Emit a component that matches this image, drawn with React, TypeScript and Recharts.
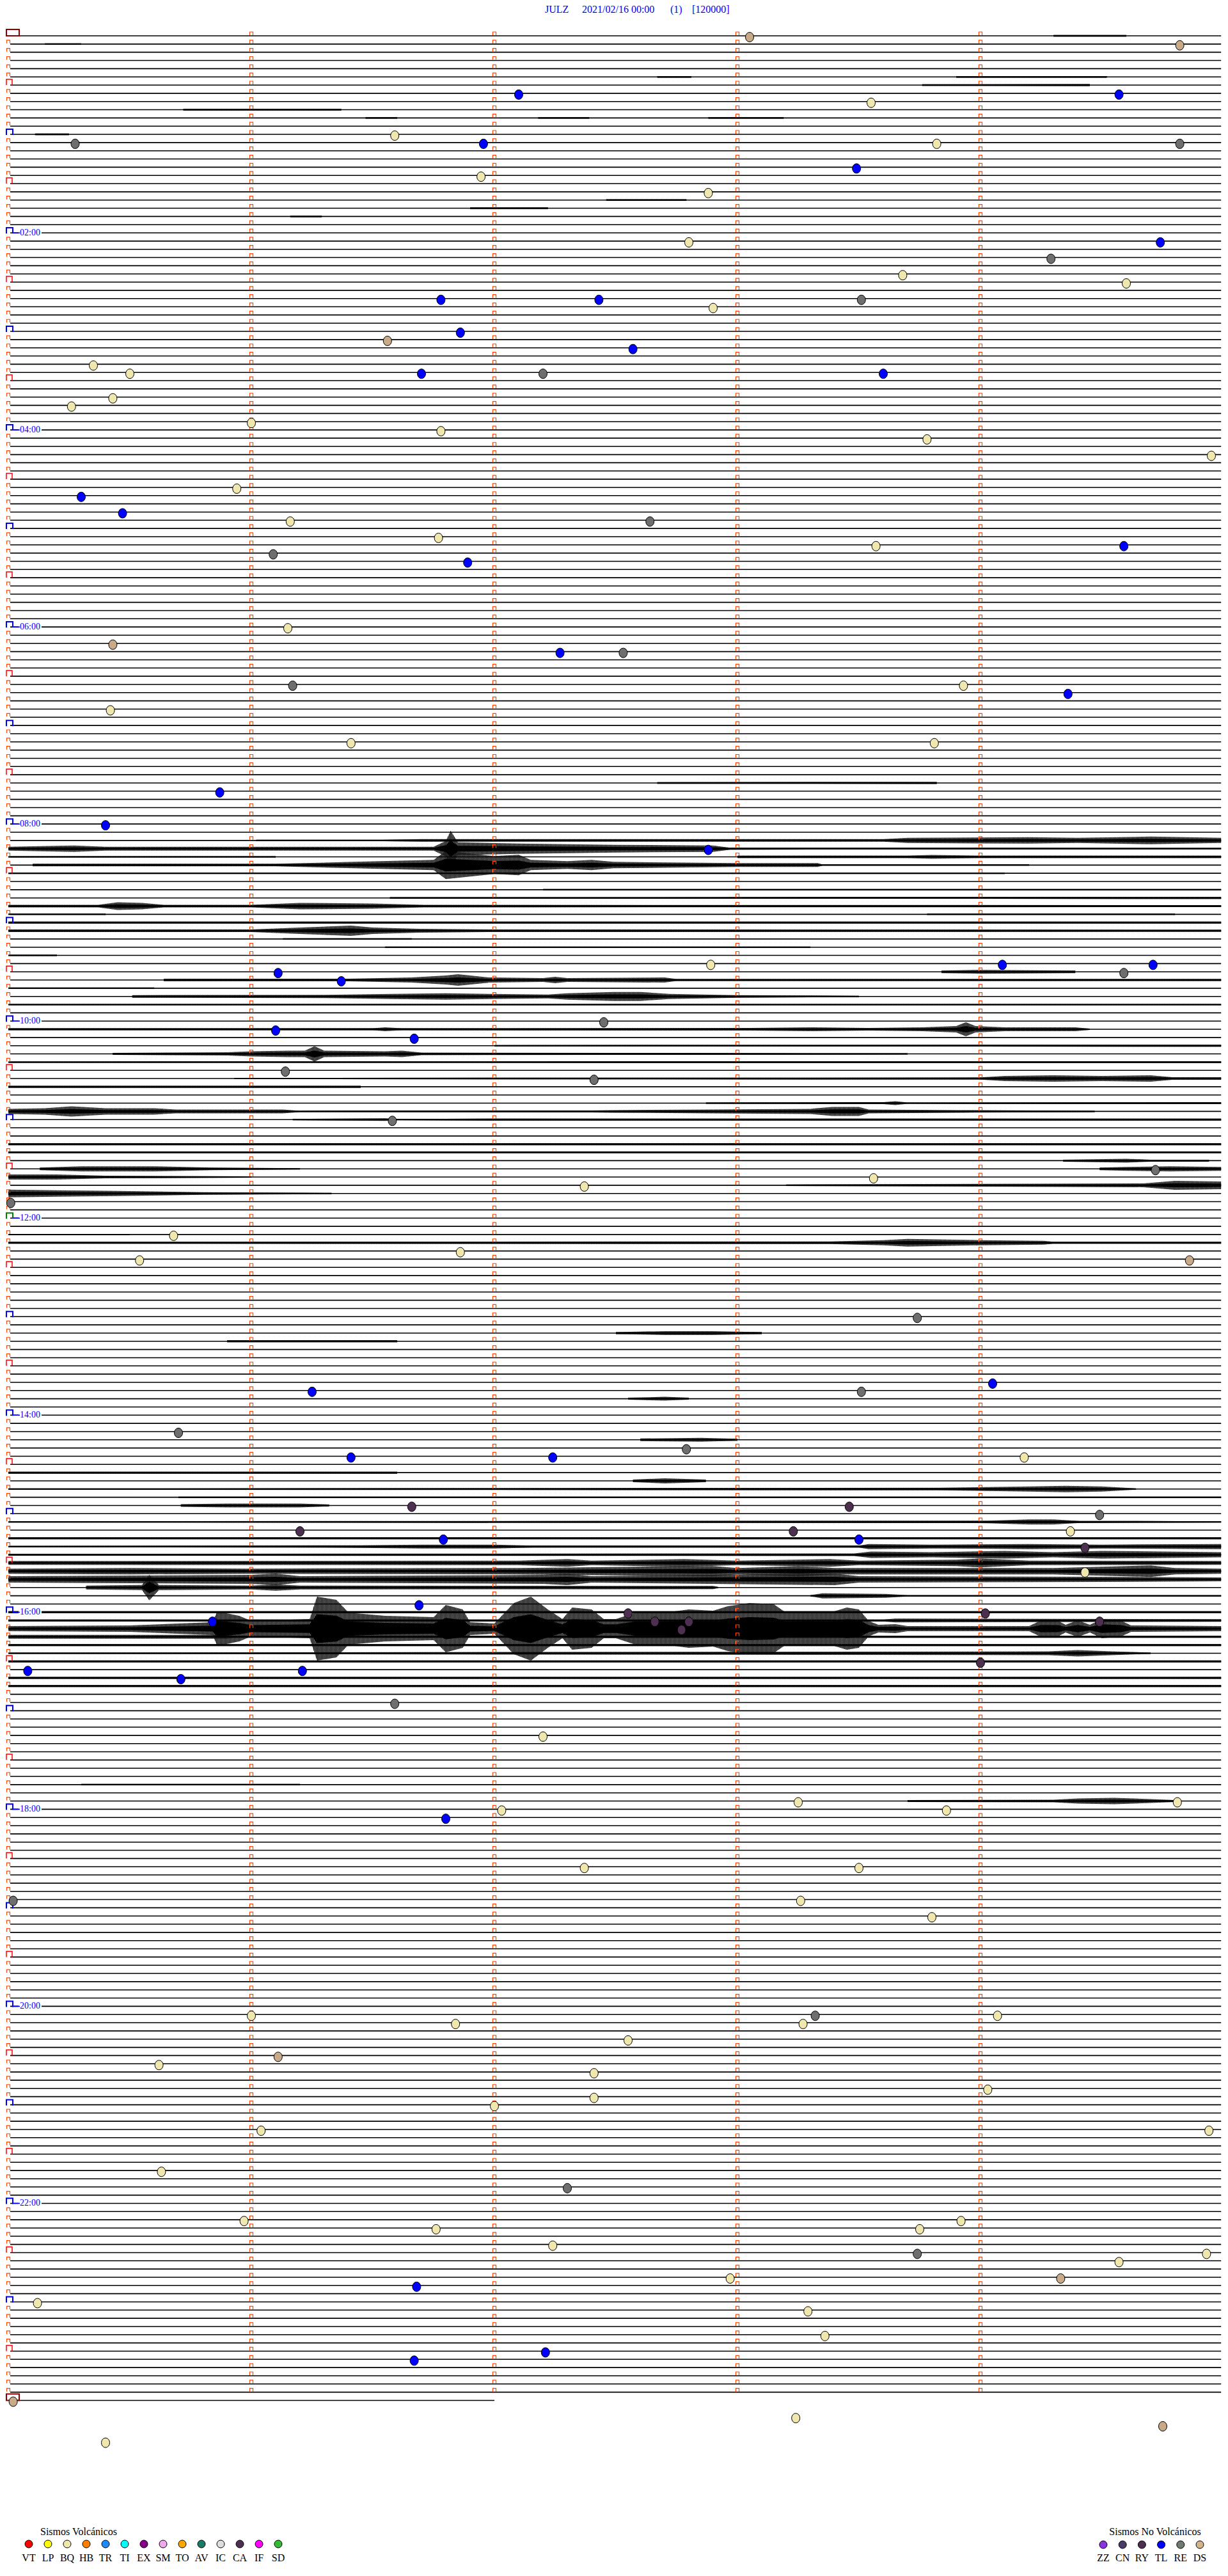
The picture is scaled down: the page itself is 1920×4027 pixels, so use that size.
import React from "react";
import { ComposedChart, Line, Area, Scatter, XAxis, YAxis } from "recharts";

// helicorder: 288 rows of 5 minutes, x in minutes inside a row, y = row index
const W = 1920;
const H = 4027;
const ROW_PX = 12.835;
const TOP_PX = 56;
const LEFT_PX = 13;
const MIN_PX = 380;
const ROWS = 288;
const LAST_ROW_MINUTES = 2;

const HOUR_LABELS = ["02:00", "04:00", "06:00", "08:00", "10:00", "12:00", "14:00", "16:00", "18:00", "20:00", "22:00"];
const HOUR_LABEL_ROWS = [24, 48, 72, 96, 120, 144, 168, 192, 216, 240, 264];

// events: [row, minute]
const BQ_EVENTS = [
  [8, 3.55], [12, 1.59], [13, 3.82], [17, 1.945], [19, 2.88], [25, 2.8], [29, 3.68], [30, 4.6],
  [33, 2.9], [40, 0.35], [41, 0.5], [44, 0.43], [45, 0.26], [47, 1.0], [48, 1.78], [49, 3.78],
  [51, 4.95], [55, 0.94], [59, 1.16], [61, 1.77], [62, 3.57], [72, 1.15], [79, 3.93], [82, 0.42],
  [86, 1.41], [86, 3.81], [113, 2.89], [139, 3.56], [140, 2.37], [146, 0.68], [148, 1.86], [149, 0.54],
  [173, 4.18], [182, 4.37], [187, 4.43], [207, 2.2], [215, 3.25], [215, 4.81], [216, 2.03], [216, 3.86],
  [223, 2.37], [223, 3.5], [227, 3.26], [229, 3.8], [241, 1.0], [241, 4.07], [242, 3.27], [242, 1.84],
  [244, 2.55], [247, 0.62], [248, 2.41], [250, 4.03], [251, 2.41], [252, 2.0], [255, 1.04], [255, 4.94],
  [260, 0.63], [266, 0.97], [266, 3.92], [267, 1.76], [267, 3.75], [269, 2.24], [270, 4.93], [271, 4.57],
  [273, 2.97], [276, 0.12], [277, 3.29], [280, 3.36], [290, 3.24], [293, 0.4],
];
const TL_EVENTS = [
  [7, 2.1], [7, 4.57], [13, 1.955], [16, 3.49], [25, 4.74], [32, 1.78], [32, 2.43], [36, 1.86],
  [38, 2.57], [41, 1.7], [41, 3.6], [56, 0.3], [58, 0.47], [62, 4.59], [64, 1.89], [75, 2.27],
  [80, 4.36], [92, 0.87], [96, 0.4], [99, 2.88], [113, 4.09], [113, 4.71], [114, 1.11], [115, 1.37],
  [121, 1.1], [122, 1.67], [164, 4.05], [165, 1.25], [173, 1.41], [173, 2.24], [183, 1.79], [183, 3.5],
  [191, 1.69], [193, 0.84], [199, 0.08], [199, 1.21], [200, 0.71], [217, 1.8], [274, 1.68], [282, 2.21],
  [283, 1.67],
];
const RE_EVENTS = [
  [13, 0.275], [13, 4.82], [27, 4.29], [32, 3.51], [41, 2.2], [59, 2.64], [63, 1.09], [75, 2.53],
  [79, 1.17], [114, 4.59], [120, 2.45], [126, 1.14], [127, 2.41], [132, 1.58], [138, 4.72], [142, 0.01],
  [156, 3.74], [165, 3.51], [170, 0.7], [172, 2.79], [180, 4.49], [203, 1.59], [227, 0.02], [241, 3.32],
  [262, 2.3], [270, 3.74],
];
const DS_EVENTS = [
  [0, 3.05], [1, 4.82], [37, 1.56], [74, 0.43], [149, 4.86], [246, 1.11], [273, 4.33], [288, 0.02], [291, 4.75],
];
const CA_EVENTS = [
  [179, 1.66], [179, 3.46], [182, 1.2], [182, 3.23], [184, 4.43], [192, 2.55], [192, 4.02], [193, 2.66],
  [193, 2.8], [193, 4.49], [194, 2.77], [198, 4.0],
];

// trace envelopes: [row, [[minute, half amplitude px], ...]]
const TRACES: [number, number[][]][] = [
  [0, [[4.3, 1.2], [4.6, 1.2]]],
  [1, [[0.15, 1.2], [0.3, 1.2]]],
  [5, [[2.67, 1.2], [2.81, 1.2]]],
  [5, [[3.9, 1.2], [4.52, 1.2]]],
  [6, [[3.76, 1.2], [4.45, 1.5]]],
  [9, [[0.72, 1.2], [1.37, 1.2]]],
  [10, [[1.47, 1.2], [1.6, 1.2]]],
  [10, [[2.18, 1.2], [2.39, 1.2]]],
  [10, [[2.88, 1.2], [3.19, 1.2]]],
  [12, [[0.11, 1.2], [0.25, 1.2]]],
  [20, [[2.46, 1.2], [2.79, 1.2]]],
  [21, [[1.9, 1.2], [2.22, 1.2]]],
  [22, [[1.16, 1.2], [1.29, 1.2]]],
  [91, [[2.67, 1.2], [3.82, 1.5]]],
  [98, [[1.02, 1.2], [1.54, 1.2], [1.7, 2], [3.6, 2], [3.7, 4], [4.2, 5], [4.4, 4], [4.7, 6], [4.99, 4]]],
  [99, [[0, 3], [0.27, 5], [0.4, 3], [1.75, 3], [1.8, 12], [1.82, 28], [1.85, 10], [2.1, 8], [2.5, 6], [2.9, 5], [2.97, 1.5], [4.99, 1.2]]],
  [100, [[0, 1], [1.1, 1]]],
  [100, [[3.0, 2], [3.7, 2], [3.8, 3], [4.0, 2], [4.99, 2]]],
  [101, [[0.1, 2], [1.1, 2], [1.42, 5], [1.75, 8], [1.8, 22], [1.9, 18], [2.0, 14], [2.1, 16], [2.15, 8], [2.3, 6], [2.4, 8], [2.49, 5], [3.0, 3], [3.33, 3], [3.35, 1], [4.2, 1]]],
  [102, [[0, 1], [4.1, 1]]],
  [104, [[2.2, 1.2], [4.99, 1.2]]],
  [105, [[1.57, 1.2], [4.99, 1.5]]],
  [106, [[0, 2], [0.37, 2], [0.45, 6], [0.55, 5], [0.64, 2], [1.0, 2], [1.2, 5], [1.5, 4], [1.71, 2], [4.99, 1.5]]],
  [107, [[0, 1], [0.4, 1]]],
  [107, [[3.78, 1], [4.8, 1]]],
  [108, [[0, 1.5], [4.99, 1.5]]],
  [109, [[0, 2], [1.0, 2], [1.2, 5], [1.41, 8], [1.5, 5], [1.69, 3], [2.0, 2], [4.99, 1.5]]],
  [110, [[1.13, 1], [1.66, 1]]],
  [111, [[1.55, 1], [3.3, 1]]],
  [112, [[0, 1], [0.2, 1]]],
  [114, [[3.84, 2], [4.0, 3], [4.39, 2]]],
  [115, [[0.64, 2], [1.4, 2], [1.66, 4], [1.8, 7], [1.85, 9], [1.98, 4], [2.2, 3], [2.25, 5], [2.3, 3], [2.7, 4], [2.75, 1.5], [4.99, 1.5]]],
  [116, [[0, 1], [0.6, 1]]],
  [117, [[0.51, 2], [1.3, 2.5], [1.58, 4], [1.8, 5], [1.98, 4], [2.22, 3], [2.3, 5], [2.49, 7], [2.6, 7], [2.72, 4], [3.0, 2], [3.5, 1]]],
  [118, [[0, 1], [4.99, 1]]],
  [121, [[0, 1.5], [1.5, 1.5], [1.55, 3], [1.62, 1.5], [3.05, 2], [3.3, 3], [3.54, 2], [3.76, 3], [3.9, 5], [3.94, 11], [3.98, 5], [4.1, 3], [4.39, 3], [4.45, 1]]],
  [123, [[2.0, 1], [4.99, 1.5]]],
  [124, [[0.43, 1.5], [0.9, 2.5], [1.0, 4], [1.15, 5], [1.22, 5], [1.26, 12], [1.3, 5], [1.55, 4], [1.62, 5], [1.7, 2], [2.5, 1.5], [3.7, 1]]],
  [125, [[0, 1], [4.99, 1.5]]],
  [127, [[0.93, 1], [3.99, 1.5], [4.1, 4], [4.3, 5], [4.5, 4], [4.7, 5], [4.79, 2], [4.99, 2]]],
  [128, [[0, 1.5], [1.45, 1.5]]],
  [130, [[2.87, 1], [3.6, 1.5], [3.65, 3], [3.7, 1], [4.99, 1.5]]],
  [131, [[0, 4], [0.15, 5], [0.26, 8], [0.4, 5], [0.6, 5], [0.69, 3], [1.13, 3], [1.2, 1], [2.4, 1.5], [2.49, 2], [2.89, 3], [3.3, 4], [3.39, 7], [3.5, 7], [3.54, 3], [3.91, 2], [4.47, 1]]],
  [132, [[1.17, 1], [1.55, 2], [1.6, 1], [2.0, 1.5], [4.99, 1.5]]],
  [135, [[0, 1.5], [4.99, 1.5]]],
  [136, [[0, 1.5], [4.99, 1.5]]],
  [137, [[4.34, 1.5], [4.6, 3], [4.7, 1.5], [4.94, 1.5]]],
  [138, [[0.13, 2], [0.3, 4], [0.6, 4], [0.84, 2], [1.2, 1]]],
  [138, [[4.49, 2], [4.6, 3], [4.78, 4], [4.99, 3]]],
  [139, [[0, 4], [0.2, 4], [0.4, 2], [1.0, 1]]],
  [140, [[3.2, 1.2], [4.67, 3], [4.8, 7], [4.99, 6]]],
  [141, [[0, 6], [0.2, 5], [0.45, 4], [0.8, 2], [1.33, 1]]],
  [146, [[0, 1], [0.5, 1]]],
  [147, [[0, 1.5], [3.38, 2], [3.6, 4], [3.7, 6], [4.0, 4], [4.26, 3], [4.3, 1.5], [4.99, 1.5]]],
  [158, [[2.5, 1.5], [2.7, 3], [2.9, 3], [3.1, 1.5]]],
  [159, [[0.9, 1.5], [1.6, 1.5]]],
  [166, [[2.55, 1.5], [2.7, 3], [2.8, 1.5]]],
  [171, [[2.6, 2], [2.85, 3], [3.0, 1.5]]],
  [175, [[0, 1.5], [1.6, 1.5]]],
  [176, [[2.57, 2], [2.7, 4], [2.87, 2]]],
  [177, [[0, 1], [3.83, 2], [4.2, 4], [4.35, 5], [4.5, 4], [4.64, 1]]],
  [178, [[0.7, 1], [4.99, 1]]],
  [179, [[0.71, 2], [0.9, 3], [1.2, 3], [1.32, 1.5]]],
  [181, [[0, 1], [4.03, 2], [4.2, 4], [4.3, 4], [4.41, 1.5], [4.99, 1]]],
  [183, [[0, 1.5], [4.99, 1.5]]],
  [184, [[0, 1], [1.45, 2], [1.7, 3], [2.0, 3], [2.16, 1.5], [3.5, 1.5], [3.54, 4], [3.8, 3], [4.2, 4], [4.5, 3], [4.99, 4]]],
  [185, [[0, 1.5], [3.48, 2], [3.55, 5], [3.8, 4], [4.1, 6], [4.3, 4], [4.5, 6], [4.99, 4]]],
  [186, [[0, 3], [2.1, 3.5], [2.3, 6], [2.4, 3.5], [2.78, 6], [3.0, 3.5], [3.38, 6], [3.5, 3.5], [3.9, 5], [4.0, 7], [4.2, 3.5], [4.99, 3]]],
  [187, [[0, 4], [0.5, 5], [1.0, 4], [2.1, 5], [2.9, 8], [3.0, 5], [3.25, 8], [3.4, 5], [4.3, 5], [4.7, 9], [4.8, 5], [4.99, 4]]],
  [188, [[0, 5], [1.0, 7], [1.1, 9], [1.2, 5], [2.2, 7], [2.3, 9], [2.4, 5], [3.4, 9], [3.5, 5], [4.5, 4], [4.99, 3]]],
  [189, [[0.32, 3], [0.55, 4], [0.58, 20], [0.62, 4], [1.0, 3], [1.1, 5], [1.2, 3], [2.9, 2.5], [2.92, 1]]],
  [190, [[3.3, 1], [3.35, 4], [3.61, 3], [3.7, 1], [4.99, 1]]],
  [192, [[0, 1.5], [4.99, 1.5]]],
  [193, [[0, 1.5], [3.6, 1.5], [3.65, 3], [4.99, 2]]],
  [194, [
    [0, 4], [0.5, 5], [0.7, 8], [0.84, 10], [0.86, 27], [0.95, 20], [1.0, 12], [1.24, 15], [1.27, 50], [1.35, 45],
    [1.4, 25], [1.55, 20], [1.75, 18], [1.8, 37], [1.87, 30], [1.9, 10], [2.0, 8], [2.08, 40], [2.15, 50], [2.22, 30],
    [2.28, 15], [2.32, 33], [2.4, 30], [2.45, 15], [2.5, 15], [2.58, 25], [2.7, 25], [2.8, 30], [2.9, 28], [2.96, 35],
    [3.05, 40], [3.15, 38], [3.2, 25], [3.3, 27], [3.38, 25], [3.45, 33], [3.5, 30], [3.54, 12], [3.58, 6], [3.65, 7],
    [3.7, 4], [4.2, 4], [4.25, 13], [4.32, 12], [4.35, 6], [4.4, 13], [4.45, 6], [4.5, 15], [4.58, 12], [4.62, 5], [4.99, 4],
  ]],
  [195, [[0, 3], [0.9, 3], [0.93, 1.5], [4.99, 1.5]]],
  [196, [[0, 1.5], [4.99, 1.5]]],
  [197, [[0, 1], [4.28, 3], [4.4, 5], [4.54, 3], [4.7, 1]]],
  [198, [[0, 1.5], [4.99, 1.5]]],
  [200, [[0, 1.5], [4.99, 1.5]]],
  [201, [[0, 1.5], [4.99, 1.5]]],
  [213, [[0.3, 1], [1.2, 1]]],
  [215, [[3.7, 1.5], [4.3, 2], [4.4, 4], [4.55, 5], [4.7, 3], [4.8, 1.5]]],
];

const VOLC_LEGEND = ["VT", "LP", "BQ", "HB", "TR", "TI", "EX", "SM", "TO", "AV", "IC", "CA", "IF", "SD"];
const VOLC_COLORS = ["#ff0000", "#ffff00", "#efe7ad", "#ff8000", "#1e88ff", "#00ffff", "#880088", "#eea8ee", "#ffa500", "#1a7a66", "#dddddd", "#4d3050", "#ff00ff", "#33bb33"];
const NONVOLC_LEGEND = ["ZZ", "CN", "RY", "TL", "RE", "DS"];
const NONVOLC_COLORS = ["#8833dd", "#4a3a66", "#4d3050", "#0000ff", "#707a70", "#d2b48c"];

const COLORS = { BQ: "#efe7ad", TL: "#0000ff", RE: "#6e6e6e", DS: "#c8aa88", CA: "#4d3050" };

const xDomain = [-LEFT_PX / MIN_PX, (W - LEFT_PX) / MIN_PX];
const yDomain = [-TOP_PX / ROW_PX, (H - TOP_PX) / ROW_PX];

const baseline: { t: number; y: number | null }[] = [];
for (let i = 0; i <= ROWS; i++) {
  const end = i === ROWS ? LAST_ROW_MINUTES : 4.99;
  baseline.push({ t: i === 0 ? 0.045 : 0.008, y: i }, { t: end, y: i }, { t: end, y: null });
}

const markers: { t: number; y: number }[] = [];
for (let i = 0; i <= ROWS; i++) {
  markers.push({ t: 0, y: i });
  if (i < ROWS) [1, 2, 3, 4].forEach((m) => markers.push({ t: m, y: i }));
}

const hourLabels = HOUR_LABELS.map((label, k) => ({ t: 0, y: HOUR_LABEL_ROWS[k], label }));

const toPoints = (list: number[][]) => list.map(([row, t]) => ({ t, y: row }));

// outer envelope is striped like a dense waveform, the core is solid
const band = (row: number, env: number[][], core: boolean) =>
  env.map(([t, a]) => {
    const h = core ? (a <= 1.5 ? a : Math.max(1.5, a * 0.45)) : a;
    return { t, band: [row - h / ROW_PX, row + h / ROW_PX] };
  });

const Marker = (p: any) => {
  const { cx, cy, payload } = p;
  const row = payload.y;
  if (payload.t === 0) {
    if (row === 0 || row === ROWS) {
      return <rect x={cx - 3} y={cy - 10} width={20} height={10} fill="none" stroke="#8b0000" strokeWidth={2} />;
    }
    if (row % 12 === 0) {
      const c = row === 144 ? "#008000" : "#0000ff";
      return <path d={`M${cx - 3},${cy + 1}V${cy - 8}H${cx + 7}V${cy + 1}`} fill="none" stroke={c} strokeWidth={2} />;
    }
    if (row % 12 === 6) {
      return <path d={`M${cx - 3},${cy}V${cy - 9}H${cx + 6}V${cy}`} fill="none" stroke="#ff0000" strokeWidth={1.5} />;
    }
  }
  return <path d={`M${cx - 2.5},${cy - 1}V${cy - 6}H${cx + 2.5}V${cy - 1}`} fill="none" stroke="#ff4500" strokeWidth={1.2} />;
};

const HourLabel = (p: any) => {
  const { cx, cy, payload } = p;
  return (
    <g>
      <rect x={cx + 16} y={cy - 7} width={36} height={13} fill="#fff" />
      <line x1={cx + 7} x2={cx + 18} y1={cy} y2={cy} stroke="#0000ff" strokeWidth={1.5} />
      <text x={cx + 18} y={cy - 1} dominantBaseline="central" fontFamily="'Liberation Serif', serif" fontSize={14} fill="#0000ff">
        {payload.label}
      </text>
    </g>
  );
};

const eventDot = (fill: string) => (p: any) => (
  <ellipse cx={p.cx} cy={p.cy + 2} rx={6.5} ry={7.5} fill={fill} stroke="#000" strokeWidth={1} />
);

const serif = "'Liberation Serif', 'Times New Roman', serif";

export default function App() {
  return (
    <div style={{ position: "absolute", left: 0, top: 0, width: W, height: H, background: "#fff", overflow: "hidden" }}>
      <svg width={0} height={0} style={{ position: "absolute" }}>
        <defs>
          <pattern id="wave" width={2} height={8} patternUnits="userSpaceOnUse">
            <rect x={0} y={0} width={1.5} height={8} fill="#000" />
          </pattern>
        </defs>
      </svg>
      <ComposedChart width={W} height={H} margin={{ top: 0, right: 0, bottom: 0, left: 0 }}>
        <XAxis type="number" dataKey="t" domain={xDomain} allowDataOverflow hide />
        <YAxis type="number" dataKey="y" domain={yDomain} allowDataOverflow reversed hide />
        <Line data={baseline} dataKey="y" stroke="#000" strokeWidth={1.6} dot={false} connectNulls={false} isAnimationActive={false} />
        {TRACES.map(([row, env], k) => (
          <Area
            key={`tr-${k}`}
            data={band(row, env, false)}
            dataKey="band"
            type="linear"
            stroke="none"
            fill="url(#wave)"
            fillOpacity={1}
            dot={false}
            activeDot={false}
            isAnimationActive={false}
          />
        ))}
        {TRACES.map(([row, env], k) => (
          <Area
            key={`core-${k}`}
            data={band(row, env, true)}
            dataKey="band"
            type="linear"
            stroke="none"
            fill="#000"
            fillOpacity={1}
            dot={false}
            activeDot={false}
            isAnimationActive={false}
          />
        ))}
        <Scatter data={markers} shape={Marker} isAnimationActive={false} />
        <Scatter data={hourLabels} shape={HourLabel} isAnimationActive={false} />
        <Scatter data={toPoints(BQ_EVENTS)} shape={eventDot(COLORS.BQ)} isAnimationActive={false} />
        <Scatter data={toPoints(RE_EVENTS)} shape={eventDot(COLORS.RE)} isAnimationActive={false} />
        <Scatter data={toPoints(DS_EVENTS)} shape={eventDot(COLORS.DS)} isAnimationActive={false} />
        <Scatter data={toPoints(CA_EVENTS)} shape={eventDot(COLORS.CA)} isAnimationActive={false} />
        <Scatter data={toPoints(TL_EVENTS)} shape={eventDot(COLORS.TL)} isAnimationActive={false} />
      </ComposedChart>

      <svg width={W} height={H} style={{ position: "absolute", left: 0, top: 0, pointerEvents: "none" }}>
        <g fontFamily={serif} fontSize={16} fill="#0000ff">
          <text x={852} y={14} dominantBaseline="central">JULZ</text>
          <text x={910} y={14} dominantBaseline="central">2021/02/16 00:00</text>
          <text x={1048} y={14} dominantBaseline="central">(1)</text>
          <text x={1082} y={14} dominantBaseline="central">[120000]</text>
        </g>
        <g fontFamily={serif} fontSize={16} fill="#000">
          <text x={63} y={3957} dominantBaseline="central">Sismos Volcánicos</text>
          {VOLC_LEGEND.map((lab, k) => (
            <g key={lab}>
              <circle cx={45 + 30 * k} cy={3977} r={6} fill={VOLC_COLORS[k]} stroke="#000" strokeWidth={1} />
              <text x={45 + 30 * k} y={3998} textAnchor="middle" dominantBaseline="central">{lab}</text>
            </g>
          ))}
          <text x={1806} y={3957} textAnchor="middle" dominantBaseline="central">Sismos No Volcánicos</text>
          {NONVOLC_LEGEND.map((lab, k) => (
            <g key={lab}>
              <circle cx={1725 + 30.2 * k} cy={3978} r={6} fill={NONVOLC_COLORS[k]} stroke="#000" strokeWidth={1} />
              <text x={1725 + 30.2 * k} y={3998} textAnchor="middle" dominantBaseline="central">{lab}</text>
            </g>
          ))}
        </g>
      </svg>
    </div>
  );
}
